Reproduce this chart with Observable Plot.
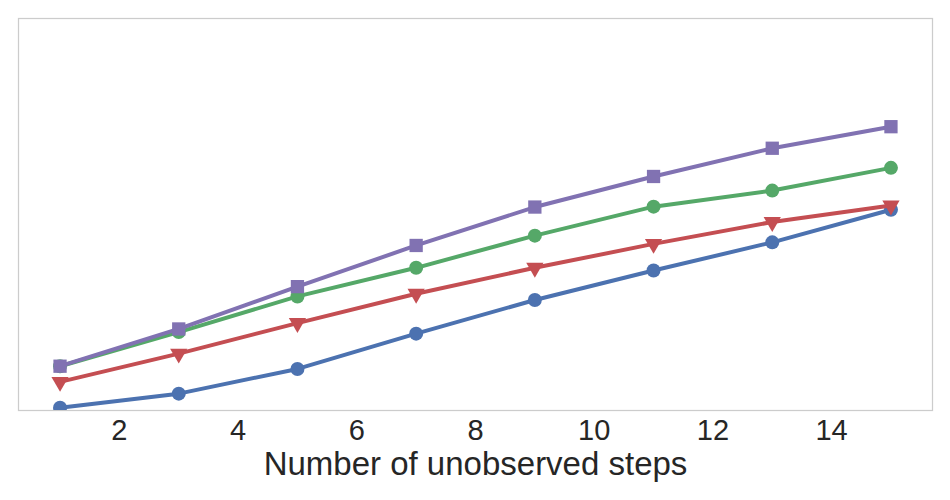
<!DOCTYPE html>
<html>
<head>
<meta charset="utf-8">
<script src="https://cdn.jsdelivr.net/npm/d3@7"></script>
<script src="https://cdn.jsdelivr.net/npm/@observablehq/plot@0.6"></script>
<style>
  html, body { margin: 0; padding: 0; background: #fff; }
  svg { font-family: "Liberation Sans", Arial, sans-serif; }
</style>
</head>
<body>
<div id="chart"></div>
<script>
const steps = [1, 3, 5, 7, 9, 11, 13, 15];
const blueValues   = [0.007, 0.043, 0.106, 0.196, 0.282, 0.357, 0.429, 0.512];
const greenValues  = [0.113, 0.200, 0.291, 0.364, 0.446, 0.520, 0.561, 0.619];
const redValues    = [0.073, 0.145, 0.223, 0.298, 0.364, 0.425, 0.481, 0.523];
const purpleValues = [0.113, 0.208, 0.316, 0.421, 0.519, 0.597, 0.669, 0.724];
const xTicks = [2, 4, 6, 8, 10, 12, 14];
const xLabel = "Number of unobserved steps";

const seriesDefs = [
  {name: "blue",   values: blueValues,   color: "#4C72B0", symbol: "circle",   r: 7,   rotate: 0},
  {name: "green",  values: greenValues,  color: "#55A868", symbol: "circle",   r: 7,   rotate: 0},
  {name: "red",    values: redValues,    color: "#C44E52", symbol: "triangle", r: 6.4, rotate: 180},
  {name: "purple", values: purpleValues, color: "#8172B2", symbol: "square",   r: 7.5, rotate: 0}
];

const marks = [Plot.frame({stroke: "#cccccc", strokeWidth: 1.25})];
for (const s of seriesDefs) {
  const data = steps.map((x, i) => ({x, y: s.values[i]}));
  marks.push(Plot.line(data, {x: "x", y: "y", stroke: s.color, strokeWidth: 4, clip: true}));
  marks.push(Plot.dot(data, {x: "x", y: "y", fill: s.color, stroke: "none", symbol: s.symbol, r: s.r, rotate: s.rotate, clip: true}));
}
marks.push(Plot.axisX({ticks: xTicks, tickSize: 0, tickPadding: 9, fontSize: 29, label: null, color: "#262626"}));
marks.push(Plot.text([xLabel], {text: d => d, frameAnchor: "bottom", lineAnchor: "middle", dy: 54, fontSize: 33, fill: "#262626"}));

const chart = Plot.plot({
  width: 950,
  height: 500,
  marginLeft: 18,
  marginRight: 18,
  marginTop: 18,
  marginBottom: 90,
  x: {domain: [0.3, 15.7], label: null},
  y: {domain: [0, 1], axis: null},
  marks
});
document.getElementById("chart").appendChild(chart);
</script>
</body>
</html>
